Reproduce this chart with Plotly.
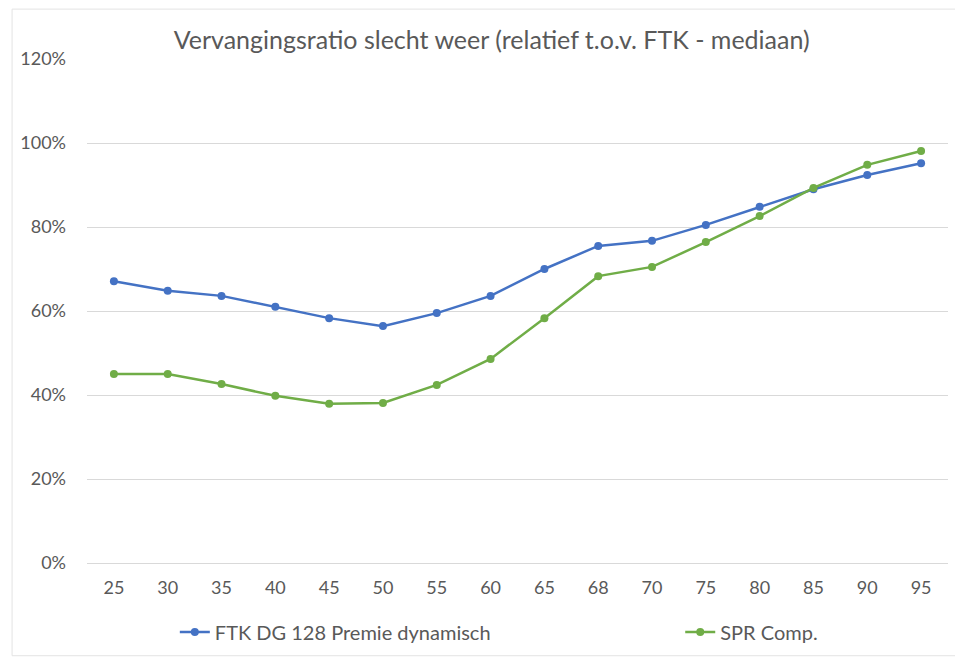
import plotly.graph_objects as go

# leeftijden (categorieën)
ages = ["25", "30", "35", "40", "45", "50", "55", "60", "65", "68", "70", "75", "80", "85", "90", "95"]

# vervangingsratio's (fractie)
ftk_dg128 = [0.671, 0.648, 0.636, 0.610, 0.583, 0.564, 0.595, 0.636, 0.700, 0.755, 0.767, 0.805, 0.848, 0.890, 0.924, 0.952]
spr_comp = [0.450, 0.450, 0.426, 0.398, 0.379, 0.381, 0.424, 0.486, 0.583, 0.683, 0.705, 0.764, 0.826, 0.893, 0.948, 0.981]

BLUE = "#4472C4"
GREEN = "#70AD47"
FONT = "Lato, 'Open Sans', sans-serif"

fig = go.Figure()

fig.add_trace(go.Scatter(
    x=ages, y=ftk_dg128,
    name="FTK DG 128 Premie dynamisch",
    mode="lines+markers",
    line=dict(color=BLUE, width=2.5),
    marker=dict(color=BLUE, size=8),
    legend="legend",
))

fig.add_trace(go.Scatter(
    x=ages, y=spr_comp,
    name="SPR Comp.",
    mode="lines+markers",
    line=dict(color=GREEN, width=2.5),
    marker=dict(color=GREEN, size=8),
    legend="legend2",
))

legend_style = dict(
    orientation="h",
    xanchor="left",
    y=-0.137, yanchor="middle",
    bgcolor="rgba(0,0,0,0)",
    font=dict(family=FONT, size=20, color="#595959"),
)

# de pagina heeft 8px body-marge, daarom iets kleiner en marges gecorrigeerd
fig.update_layout(
    width=955, height=656,
    margin=dict(l=76, r=15, t=51, b=100),
    paper_bgcolor="white",
    plot_bgcolor="white",
    font=dict(family=FONT, size=18, color="#595959"),
    title=dict(
        text="Vervangingsratio slecht weer (relatief t.o.v. FTK - mediaan)",
        xref="paper", x=0.47, xanchor="center",
        yref="container", y=0.951, yanchor="middle",
        font=dict(family=FONT, size=25, color="#595959"),
    ),
    showlegend=True,
    legend=dict(legend_style, x=0.102),
    legend2=dict(legend_style, x=0.689),
)

fig.update_xaxes(
    type="category",
    range=[-0.5, len(ages) - 0.5],
    showgrid=False,
    showline=False,
    ticks="",
    zeroline=False,
    ticklabelstandoff=12,
    tickfont=dict(size=18),
)

fig.update_yaxes(
    range=[0, 1.2],
    dtick=0.2,
    tickformat=".0%",
    showgrid=True,
    gridcolor="#D9D9D9",
    gridwidth=1,
    zeroline=True,
    zerolinecolor="#D9D9D9",
    zerolinewidth=1,
    showline=False,
    ticks="",
    ticklabelstandoff=20,
    tickfont=dict(size=18),
)

# lichte rand rond de grafiek
fig.add_shape(
    type="rect", xref="paper", yref="paper",
    x0=-0.087, x1=1.015, y0=-0.184, y1=1.099,
    line=dict(color="#E3E3E3", width=1),
    layer="below",
)

fig.write_html("out.html")
